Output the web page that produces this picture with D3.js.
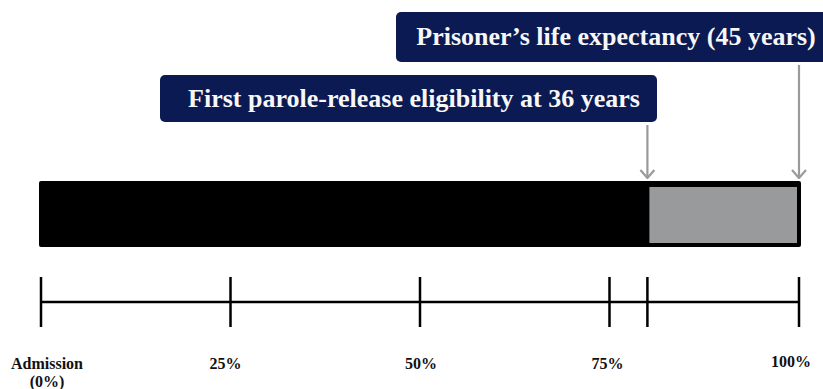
<!DOCTYPE html>
<html lang="en">

<head>
    <meta charset="UTF-8">
    <script src="https://d3js.org/d3.v7.min.js"></script>
    <title>Parole timeline</title>
    <style>
        body { margin: 0; background: #fff; }
    </style>
</head>

<body>
    <svg id="mainsvg" width="823" height="389"></svg>

    <script>
        // data
        const lifeExpectancy = 45
        const paroleAge = 36
        const tickValues = [0, 25, 50, 75, paroleAge / lifeExpectancy * 100, 100]
        const tickLabels = [
            { pct: 0, lines: ['Admission', '(0%)'] },
            { pct: 25, lines: ['25%'] },
            { pct: 50, lines: ['50%'] },
            { pct: 75, lines: ['75%'] },
            { pct: 100, lines: ['100%'] }
        ]
        const callouts = [
            { pct: 100, text: 'Prisoner\u2019s life expectancy (45 years)' },
            { pct: paroleAge / lifeExpectancy * 100, text: 'First parole-release eligibility at 36 years' }
        ]

        const svg = d3.select('#mainsvg')
        const x = d3.scaleLinear().domain([0, 100]).range([41, 799])
        const font = '"Liberation Serif", "Times New Roman", serif'
        const navy = '#0b1a52'
        const grey = '#999a9c'

        // arrow marker (fixed orientation, pointing down)
        svg.append('defs').append('marker')
            .attr('id', 'arr')
            .attr('viewBox', '0 0 16 11')
            .attr('refX', 8).attr('refY', 10)
            .attr('markerWidth', 16).attr('markerHeight', 11)
            .attr('markerUnits', 'userSpaceOnUse')
            .attr('orient', '0')
            .append('path')
            .attr('d', 'M1,2 L8,10 L15,2')
            .attr('fill', 'none')
            .attr('stroke', grey)
            .attr('stroke-width', 2.2)

        // bar
        svg.append('rect')
            .attr('x', x(0) - 2).attr('y', 181)
            .attr('width', x(100) - x(0) + 4).attr('height', 66)
            .attr('rx', 2)
            .attr('fill', '#000')
        svg.append('rect')
            .attr('x', x(tickValues[4]) + 2).attr('y', 187)
            .attr('width', x(100) - x(tickValues[4]) - 4).attr('height', 56)
            .attr('fill', grey)

        // timeline axis
        const axis = svg.append('g')
        axis.append('line')
            .attr('x1', x(0)).attr('x2', x(100))
            .attr('y1', 302).attr('y2', 302)
            .attr('stroke', '#000').attr('stroke-width', 2.5)
        axis.selectAll('line.tick')
            .data(tickValues)
            .enter().append('line')
            .attr('class', 'tick')
            .attr('x1', d => x(d)).attr('x2', d => x(d))
            .attr('y1', 277).attr('y2', 327)
            .attr('stroke', '#000').attr('stroke-width', 2.5)

        // tick labels
        const labelOffset = { 0: 6, 25: -5, 50: 1, 75: -2, 100: -8 }
        axis.selectAll('text.lab')
            .data(tickLabels)
            .enter().append('text')
            .attr('class', 'lab')
            .attr('x', d => x(d.pct) + labelOffset[d.pct])
            .attr('y', d => d.pct === 100 ? 367 : 369)
            .attr('text-anchor', 'middle')
            .attr('font-family', font)
            .attr('font-weight', 'bold')
            .attr('font-size', 16)
            .attr('fill', '#111')
            .selectAll('tspan')
            .data(d => d.lines)
            .enter().append('tspan')
            .attr('x', function () { return d3.select(this.parentNode).attr('x') })
            .attr('dy', (d, i) => i === 0 ? 0 : 18)
            .text(d => d)

        // callout boxes
        const boxes = [
            { x0: 396, y0: 12, w: 440, h: 50, cx: 616 },
            { x0: 160, y0: 75, w: 497, h: 47, cx: 414 }
        ]
        callouts.forEach((c, i) => {
            const b = boxes[i]
            svg.append('rect')
                .attr('x', b.x0).attr('y', b.y0)
                .attr('width', b.w).attr('height', b.h)
                .attr('rx', 5)
                .attr('fill', navy)
            svg.append('text')
                .attr('x', b.cx).attr('y', b.y0 + b.h / 2 + 8)
                .attr('text-anchor', 'middle')
                .attr('font-family', font)
                .attr('font-weight', 'bold')
                .attr('font-size', 26)
                .attr('fill', '#f7f7f7')
                .text(c.text)
            svg.append('line')
                .attr('x1', x(c.pct)).attr('x2', x(c.pct))
                .attr('y1', b.y0 + b.h + 3).attr('y2', 178)
                .attr('stroke', grey).attr('stroke-width', 2.2)
                .attr('marker-end', 'url(#arr)')
        })
    </script>
</body>

</html>
